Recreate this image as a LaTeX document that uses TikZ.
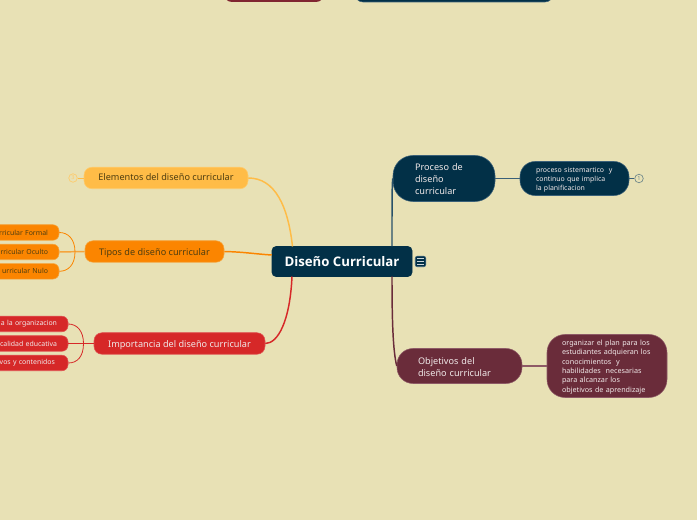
\documentclass[tikz,border=0pt]{standalone}
\usepackage{fontspec}
\setmainfont{Noto Sans}
\newfontfamily\rootfont[BoldFont={Open Sans Bold}]{Open Sans}
\definecolor{bgc}{HTML}{E8E1B5}
\definecolor{navy}{HTML}{023047}
\definecolor{navyl}{HTML}{3A6078}
\definecolor{yel}{HTML}{FFBC47}
\definecolor{yell}{HTML}{FFCB6B}
\definecolor{org}{HTML}{FB8500}
\definecolor{orgl}{HTML}{F5A43C}
\definecolor{redc}{HTML}{D62828}
\definecolor{redl}{HTML}{E05050}
\definecolor{wine}{HTML}{6A2C3A}
\definecolor{winel}{HTML}{8E5A66}
\definecolor{darktxt}{HTML}{4F3E10}
\definecolor{lighttxt}{HTML}{F0E8E8}
\def\pxw{0.75pt}
\tikzset{
  x=0.75pt,y=-0.75pt,
  base/.style={inner sep=0pt,line width=0.4pt},
  mainb/.style={base,rounded corners=8*\pxw,minimum height=21.5*\pxw,text depth=1.5pt,font=\fontsize{6.85pt}{8pt}\selectfont},
  leafb/.style={base,rounded corners=6*\pxw,minimum height=15.5*\pxw,font=\fontsize{5.2pt}{6pt}\selectfont,text width=77*\pxw,inner xsep=11*\pxw,align=right},
  yelb/.style={fill=yel,draw=yell,text=darktxt},
  orgb/.style={fill=org,draw=orgl,text=darktxt},
  redb/.style={fill=redc,draw=redl,text=lighttxt},
  conn/.style={line width=1.1pt},
  badge/.style={circle,inner sep=0pt,minimum size=8.5*\pxw,line width=0.5pt,font=\fontsize{4.2pt}{5pt}\selectfont},
}
\begin{document}
\begin{tikzpicture}
\useasboundingbox (0,-1) rectangle (697,519);
\clip (0,-1) rectangle (697,519);
\fill[bgc] (0,-1) rectangle (697,519);

% cropped nodes at the top edge
\node[base,rounded corners=8*\pxw,fill=wine!85!red,minimum width=100*\pxw,minimum height=30*\pxw] (topa) at (274,-14) {};
\node[base,rounded corners=8*\pxw,fill=navy,draw=navyl,minimum width=198*\pxw,minimum height=30*\pxw] (topb) at (454,-14) {};

% root
\node[base,rounded corners=4*\pxw,fill=navy,draw=navy,minimum width=140*\pxw,minimum height=30*\pxw,text=white,font=\fontsize{9.9pt}{12pt}\rootfont\bfseries] (root) at (342,260.5) {Diseño Curricular};
\node[base,rounded corners=2*\pxw,fill=navy,draw=navyl,minimum size=10.5*\pxw] (menu) at (420.5,260.5) {};
\foreach \yy in {257.7,260.5,263.3}
  \draw[line width=0.7pt,white!80!navy] (417,\yy) -- (424,\yy);

% left main branches
\node[mainb,yelb,text height=5.8pt,minimum width=164*\pxw] (elem) at (166,177) {Elementos del diseño curricular};
\node[mainb,orgb,text height=8.2pt,minimum width=139*\pxw] (tipos) at (154.5,250.5) {Tipos de diseño curricular};
\node[mainb,redb,text height=7.4pt,minimum width=171*\pxw] (impo) at (179.5,342.5) {Importancia del diseño curricular};
\node[badge,draw=yell,text=yell] (b3) at (73,177) {3};

% left leaves
\node[leafb,orgb] (l1) at (9.5,231.5) {rricular Formal};
\node[leafb,orgb] (l2) at (9.5,251) {rricular Oculto};
\node[leafb,orgb] (l3) at (9.5,270.3) {urricular Nulo};
\node[leafb,redb] (r1) at (18.5,323) {a la organizacion};
\node[leafb,redb] (r2) at (18.5,342.5) {calidad educativa};
\node[leafb,redb] (r3) at (18.5,362) {vos y contenidos\hspace*{1.5pt}};

% right branches
\node[base,rounded corners=20*\pxw,fill=navy,draw=navyl,text=lighttxt,minimum width=102*\pxw,minimum height=46*\pxw,inner xsep=22*\pxw,text width=58*\pxw,align=left,font=\fontsize{6.85pt}{9pt}\selectfont] (proc) at (444,177.5) {\rule{0pt}{6.6pt}Proceso de\\diseño\\curricular};
\node[base,rounded corners=15*\pxw,fill=navy,draw=navyl,text=lighttxt,minimum width=109*\pxw,minimum height=34*\pxw,inner xsep=16*\pxw,text width=77*\pxw,align=left,font=\fontsize{5.2pt}{6.9pt}\selectfont] (psis) at (574.5,177.5) {\rule{0pt}{5.4pt}proceso sistemartico~ y\\continuo que implica\\la planificacion};
\node[badge,draw=navyl!70!bgc,text=navyl!70!bgc] (b1) at (639,177.5) {1};
\node[base,rounded corners=16*\pxw,fill=wine,draw=winel,text=lighttxt,minimum width=125*\pxw,minimum height=35*\pxw,inner xsep=21*\pxw,text width=83*\pxw,align=left,font=\fontsize{6.85pt}{9.3pt}\selectfont] (obj) at (459.5,365) {\rule{0pt}{6.6pt}Objetivos del\\diseño curricular};
\node[base,rounded corners=18*\pxw,fill=wine,draw=winel,text=lighttxt,minimum width=120*\pxw,minimum height=63*\pxw,inner xsep=15*\pxw,text width=90*\pxw,align=left,font=\fontsize{5.4pt}{7pt}\selectfont] (orga) at (607,365) {\rule{0pt}{5.6pt}organizar el plan para los\\estudiantes adquieran los\\conocimientos~ y\\habilidades~ necesarias\\para alcanzar los\\objetivos de aprendizaje};

% connector end points on the root
\coordinate (rnl) at (292.5,245.5);
\coordinate (rsl) at (292,275.5);
\coordinate (rnr) at (392,245.5);
\coordinate (rsr) at (392,275.5);
\coordinate (ow) at (75,251);
\coordinate (rw) at (83.5,342.5);

% connectors
\draw[conn,draw=yel] (elem.east) .. controls (275,177) and (288,205) .. (rnl);
\draw[conn,draw=org] (tipos.east) .. controls (245,251) and (255,253) .. (root.west |- 0,254);
\draw[conn,draw=redc] (impo.east) .. controls (278,342.5) and (290,320) .. (rsl);
\draw[conn,draw=navyl!70!navy] (proc.west) .. controls (392,185) and (392,200) .. (rnr);
\draw[conn,draw=wine] (rsr) .. controls (392,320) and (393,350) .. (obj.west);
\draw[conn,draw=navyl] (proc.east) -- (psis.west);
\draw[conn,draw=winel] (obj.east) -- (orga.west);
\draw[line width=0.7pt,draw=navyl] (psis.east) -- (b1.west);
\draw[line width=0.7pt,draw=yel] (b3.east) -- (elem.west);

\draw[conn,draw=orgl] (tipos.west) -- (l2.east);
\draw[line width=0.6pt,draw=org] (l1.east) .. controls (68,231.5) and (75,238) .. (ow) .. controls (75,264) and (68,270.3) .. (l3.east);
\draw[conn,draw=redc] (impo.west) -- (r2.east);
\draw[line width=0.6pt,draw=redc] (r1.east) .. controls (77,323) and (83.5,330) .. (rw) .. controls (83.5,356) and (77,362) .. (r3.east);
\end{tikzpicture}
\end{document}
